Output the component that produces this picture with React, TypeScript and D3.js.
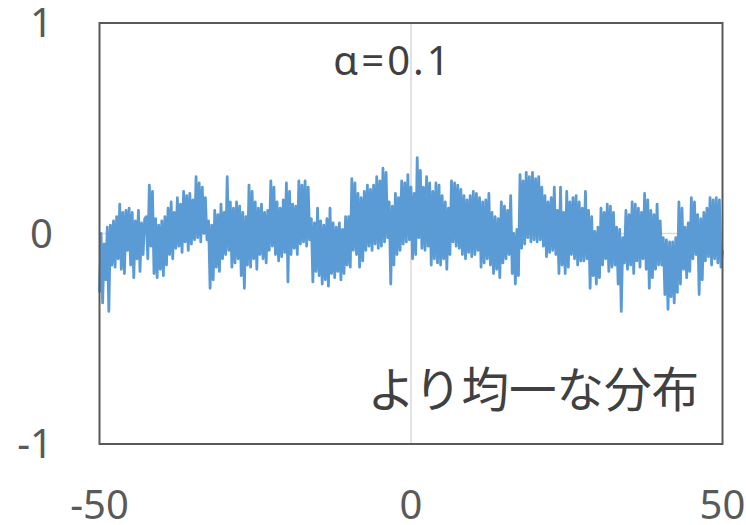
import React from "react";
import * as d3 from "d3";

// x grid: -50 .. 50 in steps of 0.25 (401 samples)
const X_MIN = -50;
const X_MAX = 50;
const X_STEP = 0.25;

// y values (alternating upper / lower excursions of the noise band)
const values: number[] = [
  -0.28, 0.0, -0.33, -0.05, -0.22, 0.03, -0.37, 0.04, -0.15, 0.06,
  -0.16, 0.08, -0.12, 0.14, -0.17, 0.1, -0.19, 0.11, -0.08, 0.12,
  -0.15, 0.1, -0.21, 0.06, -0.12, 0.11, -0.18, 0.05, -0.1, 0.07,
  0.08, -0.12, 0.23, -0.06, 0.2, -0.19, 0.07, -0.21, 0.04, -0.17,
  0.06, -0.2, 0.08, -0.15, 0.12, -0.1, 0.15, -0.12, 0.1, -0.07,
  0.17, -0.06, 0.14, -0.09, 0.2, -0.04, 0.18, -0.08, 0.19, -0.05,
  0.16, -0.03, 0.27, -0.02, 0.24, -0.04, 0.22, 0.0, 0.17, -0.03,
  0.06, -0.26, 0.04, -0.22, 0.11, -0.16, 0.09, -0.18, 0.14, -0.12,
  0.1, -0.1, 0.27, -0.08, 0.15, -0.16, 0.12, -0.14, 0.15, -0.12,
  0.13, -0.2, 0.1, -0.26, 0.08, -0.15, 0.23, -0.16, 0.2, -0.12,
  0.15, -0.17, 0.12, -0.1, 0.14, -0.12, 0.1, -0.14, 0.11, -0.08,
  0.25, -0.06, 0.22, -0.1, 0.15, -0.13, 0.12, -0.11, 0.16, -0.09,
  0.24, -0.23, 0.2, -0.1, 0.14, -0.07, 0.13, -0.1, 0.25, -0.05,
  0.23, -0.04, 0.25, -0.06, 0.22, -0.03, 0.07, -0.23, 0.05, -0.18,
  0.12, -0.2, 0.06, -0.24, 0.04, -0.22, 0.07, -0.25, 0.12, -0.19,
  0.05, -0.21, 0.03, -0.18, 0.05, -0.22, 0.02, -0.19, 0.08, -0.15,
  0.08, -0.16, 0.26, -0.08, 0.24, -0.1, 0.19, -0.16, 0.17, -0.13,
  0.2, -0.08, 0.23, -0.06, 0.21, -0.08, 0.23, -0.05, 0.27, -0.07,
  0.25, -0.06, 0.31, -0.04, 0.29, -0.02, 0.15, -0.24, 0.13, -0.15,
  0.19, -0.1, 0.17, -0.08, 0.25, -0.05, 0.24, -0.04, 0.28, -0.03,
  0.22, -0.12, 0.19, -0.1, 0.36, -0.02, 0.3, -0.07, 0.22, -0.08,
  0.27, -0.06, 0.24, -0.15, 0.2, -0.12, 0.24, -0.14, 0.23, -0.15,
  0.18, -0.12, 0.15, -0.17, 0.12, -0.1, 0.25, -0.04, 0.24, -0.06,
  0.23, -0.07, 0.21, -0.1, 0.18, -0.12, 0.16, -0.09, 0.18, -0.11,
  0.2, -0.1, 0.19, -0.08, 0.17, -0.16, 0.15, -0.14, 0.16, -0.12,
  0.19, -0.15, 0.1, -0.19, 0.08, -0.17, 0.07, -0.21, 0.15, -0.14,
  0.13, -0.12, 0.11, -0.1, 0.18, -0.19, 0.0, -0.24, 0.02, -0.2,
  0.28, -0.07, 0.25, -0.05, 0.29, -0.02, 0.27, -0.04, 0.29, -0.03,
  0.26, -0.04, 0.27, -0.03, 0.22, -0.06, 0.18, -0.11, 0.15, -0.09,
  0.17, -0.08, 0.22, -0.1, 0.11, -0.19, 0.22, -0.15, 0.1, -0.19,
  0.2, -0.16, 0.15, -0.1, 0.17, -0.12, 0.18, -0.15, 0.15, -0.13,
  0.12, -0.13, 0.2, -0.12, 0.11, -0.26, 0.08, -0.2, 0.01, -0.24,
  0.03, -0.21, 0.12, -0.15, 0.1, -0.12, 0.14, -0.18, 0.13, -0.16,
  0.1, -0.15, 0.03, -0.24, 0.02, -0.37, -0.02, -0.14, 0.11, -0.17,
  0.09, -0.15, 0.15, -0.19, 0.14, -0.13, 0.12, -0.16, 0.1, -0.12,
  0.19, -0.17, 0.16, -0.26, 0.11, -0.21, 0.09, -0.17, 0.14, -0.15,
  0.06, -0.15, -0.02, -0.29, -0.03, -0.36, -0.04, -0.3, -0.04, -0.33,
  -0.02, -0.28, 0.15, -0.24, 0.12, -0.17, 0.03, -0.21, 0.05, -0.18,
  0.17, -0.12, 0.15, -0.1, 0.09, -0.29, 0.07, -0.22, 0.1, -0.13,
  0.12, -0.11, 0.17, -0.15, 0.16, -0.12, 0.17, -0.14, 0.16, -0.16,
  -0.08,
];

const xTicks = [-50, 0, 50];
const yTicks = [-1, 0, 1];
const xTickLabels = ["-50", "0", "50"];
const yTickLabels = ["-1", "0", "1"];
const titleText = "α=0.1";
const noteText = "より均一な分布";

const W = 746;
const H = 525;
const PL = 99.5;
const PR = 722.5;
const PT = 23;
const PB = 444;

export default function App() {
  const x = d3.scaleLinear().domain([X_MIN, X_MAX]).range([PL, PR]);
  const y = d3.scaleLinear().domain([-1, 1]).range([PB, PT]);
  const pts: [number, number][] = values.map((v, i) => [X_MIN + i * X_STEP, v]);
  const line = d3
    .line<[number, number]>()
    .x((d) => x(d[0]))
    .y((d) => y(d[1]));

  const numFont = "'Noto Sans', 'DejaVu Sans', sans-serif";
  return (
    <svg
      width={W}
      height={H}
      style={{ position: "absolute", left: 0, top: 0, background: "#fff" }}
    >
      <rect x={0} y={0} width={W} height={H} fill="#fff" />
      {/* zero axes */}
      <line x1={PL} x2={PR} y1={y(0)} y2={y(0)} stroke="#D9D9D9" strokeWidth={1.5} />
      <line x1={x(0)} x2={x(0)} y1={PT} y2={PB} stroke="#D9D9D9" strokeWidth={1.5} />
      {/* series */}
      <path
        d={line(pts) || ""}
        fill="none"
        stroke="#5B9BD5"
        strokeWidth={2.8}
        strokeLinejoin="round"
      />
      {/* frame */}
      <rect
        x={PL}
        y={PT}
        width={PR - PL}
        height={PB - PT}
        fill="none"
        stroke="#595959"
        strokeWidth={2}
      />
      {/* y tick labels */}
      {yTicks.map((t, i) => (
        <text
          key={"y" + t}
          x={53}
          y={y(t)}
          dy="0.36em"
          textAnchor="end"
          fontFamily={numFont}
          fontSize={40}
          fill="#595959"
        >
          {yTickLabels[i]}
        </text>
      ))}
      {/* x tick labels */}
      {xTicks.map((t, i) => (
        <text
          key={"x" + t}
          x={x(t)}
          y={519}
          textAnchor="middle"
          fontFamily={numFont}
          fontSize={40}
          fill="#595959"
        >
          {xTickLabels[i]}
        </text>
      ))}
      <text
        x={393}
        y={75}
        textAnchor="middle"
        fontFamily={numFont}
        fontSize={40}
        letterSpacing={3}
        fill="#404040"
      >
        {titleText}
      </text>
      <text
        x={699}
        y={407}
        textAnchor="end"
        fontFamily="'Noto Sans CJK JP', sans-serif"
        fontSize={47.5}
        fill="#404040"
      >
        {noteText}
      </text>
    </svg>
  );
}
